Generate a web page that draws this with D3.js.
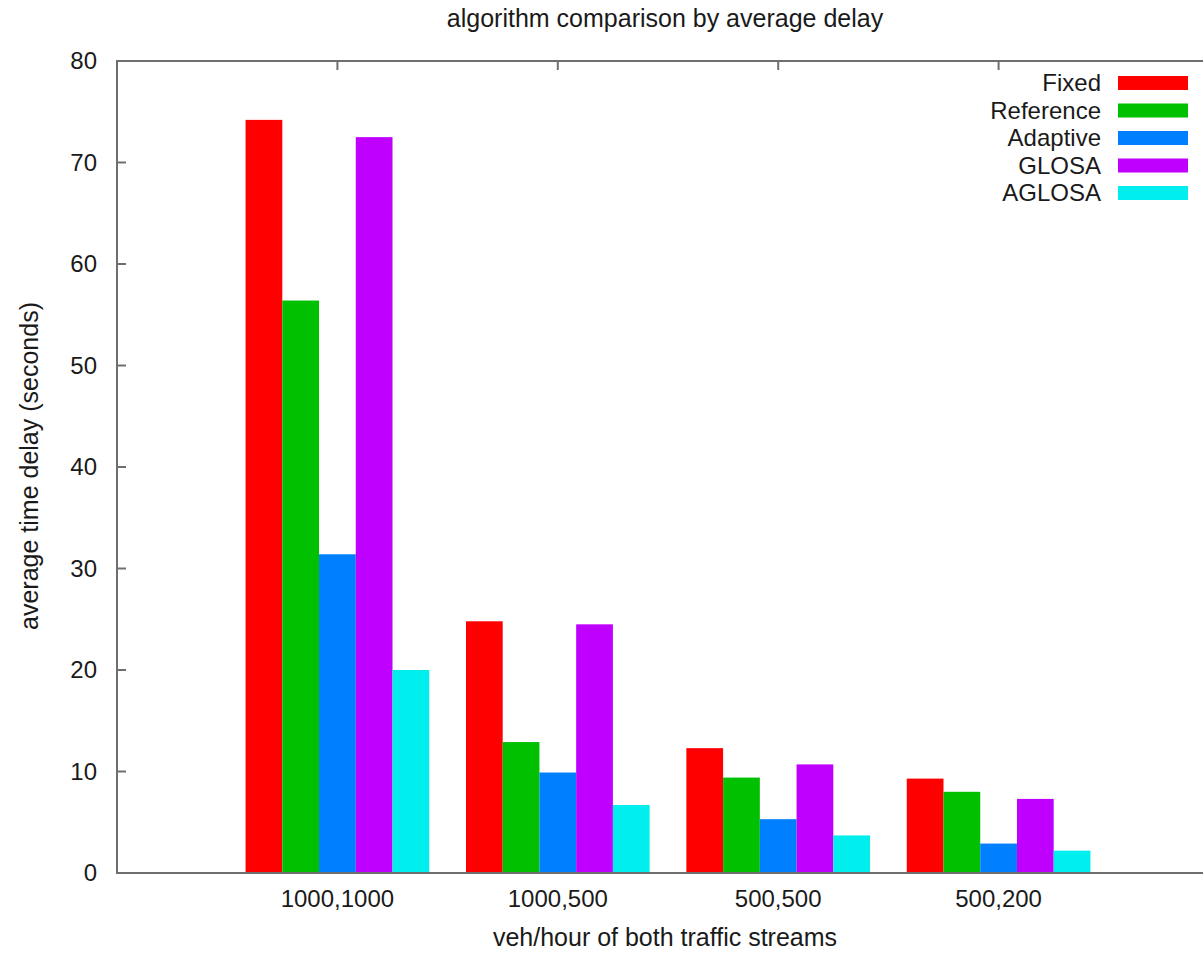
<!DOCTYPE html>
<html>
<head>
<meta charset="utf-8">
<script src="https://cdn.jsdelivr.net/npm/d3@7"></script>
<style>
  body { margin: 0; background: #fff; }
  text { font-family: "Liberation Sans", Arial, sans-serif; fill: #1a1a1a; }
</style>
</head>
<body>
<div id="chart"></div>
<script>
const categories = ["1000,1000", "1000,500", "500,500", "500,200"];
const seriesNames = ["Fixed", "Reference", "Adaptive", "GLOSA", "AGLOSA"];
const fixed = [74.2, 24.8, 12.3, 9.3];
const reference = [56.4, 12.9, 9.4, 8.0];
const adaptive = [31.4, 9.9, 5.3, 2.9];
const glosa = [72.5, 24.5, 10.7, 7.3];
const aglosa = [20.0, 6.7, 3.7, 2.2];
const yTicks = [0, 10, 20, 30, 40, 50, 60, 70, 80];
const colors = ["#ff0000", "#00c000", "#0080ff", "#c000ff", "#00eeee"];

const series = [fixed, reference, adaptive, glosa, aglosa];

const width = 1203,
      height = 953,
      plotLeft = 117,
      plotTop = 61,
      plotBottom = 873,
      plotRight = 1219;

const svg = d3.select("#chart")
  .append("svg")
    .attr("width", width)
    .attr("height", height);

// gnuplot-style histogram: categories at 0..3, xrange -1..4
const x = d3.scaleLinear().domain([-1, categories.length]).range([plotLeft, plotRight]);
const y = d3.scaleLinear().domain([0, 80]).range([plotBottom, plotTop]);
const barW = 1 / (seriesNames.length + 1);

// bars
series.forEach((vals, j) => {
  svg.append("g")
    .selectAll("rect")
    .data(vals)
    .join("rect")
      .attr("x", (d, i) => x(i + (j - 2.5) * barW))
      .attr("width", x(barW) - x(0))
      .attr("y", d => y(d))
      .attr("height", d => y(0) - y(d))
      .attr("fill", colors[j]);
});

// frame
const frameColor = "#6e6e6e";
svg.append("path")
  .attr("d", `M${plotRight + 5},${plotTop}H${plotLeft}V${plotBottom}H${plotRight + 5}`)
  .attr("fill", "none")
  .attr("stroke", frameColor)
  .attr("stroke-width", 2);

// y axis ticks and labels
const yAxis = svg.append("g");
yAxis.selectAll("line")
  .data(yTicks.slice(1, -1))
  .join("line")
    .attr("x1", plotLeft).attr("x2", plotLeft + 9)
    .attr("y1", d => y(d)).attr("y2", d => y(d))
    .attr("stroke", frameColor).attr("stroke-width", 2);
yAxis.selectAll("text")
  .data(yTicks)
  .join("text")
    .attr("x", 97)
    .attr("y", d => y(d) + 8)
    .attr("text-anchor", "end")
    .style("font-size", "24px")
    .text(d => d);

// x ticks (mirrored on top) and labels
const xAxis = svg.append("g");
xAxis.selectAll("line")
  .data(categories)
  .join("line")
    .attr("x1", (d, i) => x(i)).attr("x2", (d, i) => x(i))
    .attr("y1", plotTop).attr("y2", plotTop + 9)
    .attr("stroke", frameColor).attr("stroke-width", 2);
xAxis.selectAll("text")
  .data(categories)
  .join("text")
    .attr("x", (d, i) => x(i))
    .attr("y", 907)
    .attr("text-anchor", "middle")
    .style("font-size", "24px")
    .text(d => d);

// titles
svg.append("text")
  .attr("x", 665).attr("y", 27)
  .attr("text-anchor", "middle")
  .style("font-size", "25px")
  .text("algorithm comparison by average delay");

svg.append("text")
  .attr("x", 665).attr("y", 946)
  .attr("text-anchor", "middle")
  .style("font-size", "25px")
  .text("veh/hour of both traffic streams");

svg.append("text")
  .attr("transform", "translate(38,466) rotate(-90)")
  .attr("text-anchor", "middle")
  .style("font-size", "25px")
  .text("average time delay (seconds)");

// legend
const legend = svg.append("g")
  .selectAll("g")
  .data(seriesNames)
  .join("g")
    .attr("transform", (d, i) => `translate(0,${83 + i * 27.5})`);
legend.append("text")
  .attr("x", 1101).attr("y", 8)
  .attr("text-anchor", "end")
  .style("font-size", "24px")
  .text(d => d);
legend.append("rect")
  .attr("x", 1118).attr("y", -7)
  .attr("width", 70).attr("height", 14)
  .attr("fill", (d, i) => colors[i]);
</script>
</body>
</html>
